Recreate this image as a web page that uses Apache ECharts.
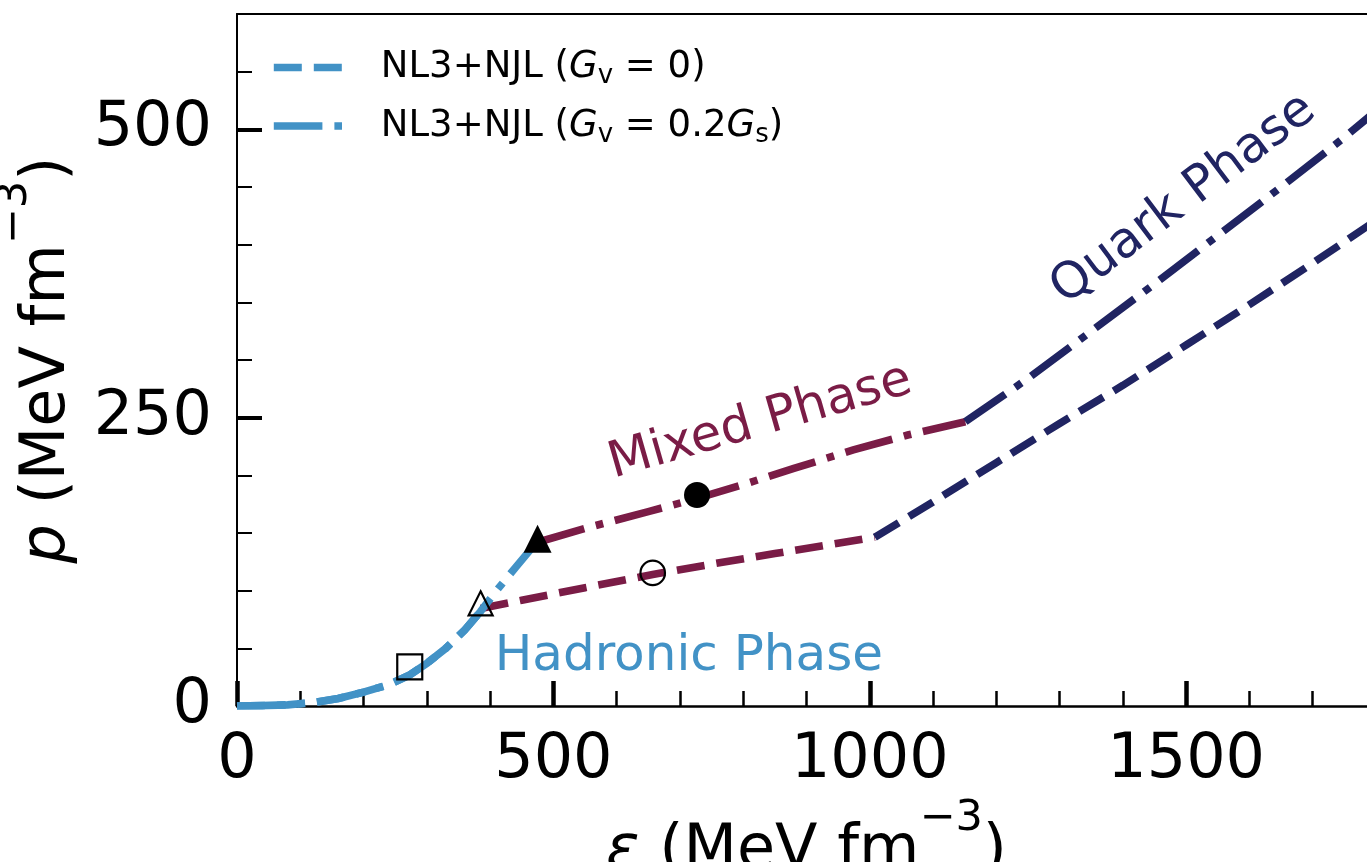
<!DOCTYPE html>
<html><head><meta charset="utf-8">
<script src="https://cdn.jsdelivr.net/npm/echarts@6/dist/echarts.min.js"></script>
<style>html,body{margin:0;padding:0;background:#fff}#c{width:1367px;height:862px}</style>
</head><body><div id="c"></div>
<script>
// ---- data ----
const hadEpsGv0  = [0, 40, 80, 120, 160, 200, 240, 273, 300, 330, 360, 385];
const hadPGv0    = [0, 0.3, 1, 3, 6.5, 12, 18.5, 27, 37, 50, 66, 82];
const hadEpsGv02 = [0, 40, 80, 120, 160, 200, 240, 273, 300, 330, 360, 385, 410, 440, 475];
const hadPGv02   = [0, 0.3, 1, 3, 6.5, 12, 18.5, 27, 37, 50, 66, 82, 100, 120, 143];
const mixEpsGv0  = [385, 450, 550, 657, 750, 850, 1008];
const mixPGv0    = [84.5, 91.7, 102.6, 114, 123, 132.2, 146.4];
const mixEpsGv02 = [475, 560, 650, 727, 800, 880, 974, 1060, 1151];
const mixPGv02   = [142, 155.5, 168.5, 180, 192, 206, 222, 235, 246.5];
const qEpsGv0    = [1008, 1100, 1200, 1300, 1400, 1500, 1600, 1700, 1800];
const qPGv0      = [146.4, 177, 211, 245, 278, 313, 348, 384, 421];
const qEpsGv02   = [1151, 1250, 1350, 1450, 1550, 1650, 1750, 1800];
const qPGv02     = [246.5, 284, 325, 366, 408, 450, 493, 516];
const markerEps    = [273, 385, 475, 657, 727];
const markerP      = [34, 89, 145, 115.4, 183];
const markerShape  = ['rect', 'triangle', 'triangle', 'circle', 'circle'];
const markerFilled = [false, false, true, false, true];
const phaseText = ['Hadronic Phase', 'Mixed Phase', 'Quark Phase'];
const phaseEps  = [714, 827, 1496];
const phaseP    = [42.5, 246, 439];
const phaseAngle = [0, 16, 37];
const legendNames = ['NL3+NJL (Gv = 0)', 'NL3+NJL (Gv = 0.2Gs)'];
const legendRich  = ['{n|NL3+NJL (}{i|G}{s|v}{n| = 0)}', '{n|NL3+NJL (}{i|G}{s|v}{n| = 0.2}{i|G}{s|s}{n|)}'];
const xMajorStep = 500, xMinorStep = 100, xMax = 1800;
const yMajorStep = 250, yMinorStep = 50, yMax = 600;

// ---- styles ----
const FONT = 'DejaVu Sans';
const BLUE = '#4292c6', MAROON = '#7a1c46', NAVY = '#202462';
const LW = 7.6;
const DASH = [28, 12];
const DASHDOT = [48.6, 12, 7.6, 12];

const zip = (a, b) => a.map((v, i) => [v, b[i]]);
function lineSeries(name, xs, ys, color, dash, z) {
  return { type: 'line', name, data: zip(xs, ys), symbol: 'none', showSymbol: false,
    lineStyle: { color, width: LW, type: dash, cap: 'butt', join: 'miter', opacity: 1 },
    itemStyle: { color }, z, silent: true, animation: false };
}

const chart = echarts.init(document.getElementById('c'), null, { renderer: 'canvas' });

const markerData = markerEps.map((x, i) => {
  const shape = markerShape[i];
  const filled = markerFilled[i];
  let size;
  if (shape === 'rect') size = 25;
  else if (shape === 'triangle') size = filled ? [28, 28] : [24, 24];
  else size = filled ? 26 : 24.5;
  return { value: [x, markerP[i]], symbol: shape, symbolSize: size,
    itemStyle: filled ? { color: '#000', borderWidth: 0, opacity: 1 }
                      : { color: 'rgba(0,0,0,0)', borderColor: '#000', borderWidth: 2.2, opacity: 1 } };
});

const phaseColors = [BLUE, MAROON, NAVY];
const phaseSeries = phaseText.map((t, i) => ({
  type: 'scatter', data: [[phaseEps[i], phaseP[i]]], symbolSize: 1,
  itemStyle: { color: 'rgba(0,0,0,0)', opacity: 1 }, z: 8, silent: true, animation: false,
  label: { show: true, position: 'inside', formatter: t, rotate: phaseAngle[i], opacity: 1,
    fontFamily: FONT, fontSize: 50, color: phaseColors[i] }
}));

const nameRich = {
  i: { fontStyle: 'italic', fontFamily: FONT, fontSize: 62, lineHeight: 110, color: '#000' },
  n: { fontFamily: FONT, fontSize: 62, lineHeight: 110, color: '#000' },
  sup: { fontFamily: FONT, fontSize: 43, lineHeight: 49, verticalAlign: 'top', color: '#000' }
};
const plainNum = v => String(v);

const option = {
  animation: false,
  backgroundColor: '#fff',
  grid: { left: 237, top: 14, width: 1139, height: 692, show: false, outerBoundsMode: 'none', containLabel: false },
  legend: {
    data: legendNames, orient: 'vertical', left: 270, top: 49, padding: 0, itemGap: 18,
    itemWidth: 72, itemHeight: 14, selectedMode: false,
    lineStyle: { width: LW },
    itemStyle: { opacity: 0 },
    formatter: name => legendRich[legendNames.indexOf(name)],
    textStyle: { fontFamily: FONT, fontSize: 37, color: '#000', padding: [0, 0, 0, 30],
      rich: {
        n: { fontFamily: FONT, fontSize: 37, lineHeight: 44, color: '#000' },
        i: { fontFamily: FONT, fontStyle: 'italic', fontSize: 37, lineHeight: 44, color: '#000' },
        s: { fontFamily: FONT, fontSize: 26, lineHeight: 22, verticalAlign: 'bottom', color: '#000' }
      } }
  },
  xAxis: [
    { type: 'value', position: 'bottom', min: 0, max: xMax, interval: xMajorStep,
      axisLine: { show: true, onZero: false, lineStyle: { color: '#000', width: 2.5 } },
      axisTick: { show: true, inside: true, length: 25, lineStyle: { color: '#000', width: 4.5 } },
      axisLabel: { show: true, margin: 24, fontFamily: FONT, fontSize: 62, color: '#000', showMaxLabel: false, hideOverlap: false, formatter: plainNum },
      splitLine: { show: false },
      name: '{i|ε}{n| (MeV fm}{sup|−3}{n|)}', nameLocation: 'middle', nameGap: 87,
      nameTextStyle: { fontFamily: FONT, fontSize: 62, color: '#000', rich: nameRich } },
    { type: 'value', position: 'bottom', min: 0, max: xMax, interval: xMinorStep,
      axisLine: { show: false, onZero: false },
      axisTick: { show: true, inside: true, length: 15, lineStyle: { color: '#000', width: 2.5 } },
      axisLabel: { show: false }, splitLine: { show: false } },
    { type: 'value', position: 'top', min: 0, max: xMax,
      axisLine: { show: true, onZero: false, lineStyle: { color: '#000', width: 2 } },
      axisTick: { show: false }, axisLabel: { show: false }, splitLine: { show: false } }
  ],
  yAxis: [
    { type: 'value', position: 'left', min: 0, max: yMax, interval: yMajorStep,
      axisLine: { show: true, onZero: false, lineStyle: { color: '#000', width: 2 } },
      axisTick: { show: true, inside: true, length: 25, lineStyle: { color: '#000', width: 4 } },
      axisLabel: { show: true, margin: 25, fontFamily: FONT, fontSize: 62, color: '#000', showMaxLabel: false, hideOverlap: false, formatter: plainNum },
      splitLine: { show: false },
      name: '{i|p}{n| (MeV fm}{sup|−3}{n|)}', nameLocation: 'middle', nameGap: 134,
      nameTextStyle: { fontFamily: FONT, fontSize: 62, color: '#000', rich: nameRich } },
    { type: 'value', position: 'left', min: 0, max: yMax, interval: yMinorStep,
      axisLine: { show: false, onZero: false },
      axisTick: { show: true, inside: true, length: 15, lineStyle: { color: '#000', width: 2 } },
      axisLabel: { show: false }, splitLine: { show: false } }
  ],
  series: [
    lineSeries(legendNames[0], hadEpsGv0, hadPGv0, BLUE, DASH, 3),
    lineSeries(legendNames[1], hadEpsGv02, hadPGv02, BLUE, DASHDOT, 3),
    lineSeries('mixed Gv0', mixEpsGv0, mixPGv0, MAROON, DASH, 2),
    lineSeries('mixed Gv02', mixEpsGv02, mixPGv02, MAROON, DASHDOT, 2),
    lineSeries('quark Gv0', qEpsGv0, qPGv0, NAVY, DASH, 2),
    lineSeries('quark Gv02', qEpsGv02, qPGv02, NAVY, DASHDOT, 2),
    { type: 'scatter', name: 'markers', data: markerData, z: 6, silent: true, animation: false },
    ...phaseSeries
  ]
};
chart.setOption(option);
</script></body></html>
